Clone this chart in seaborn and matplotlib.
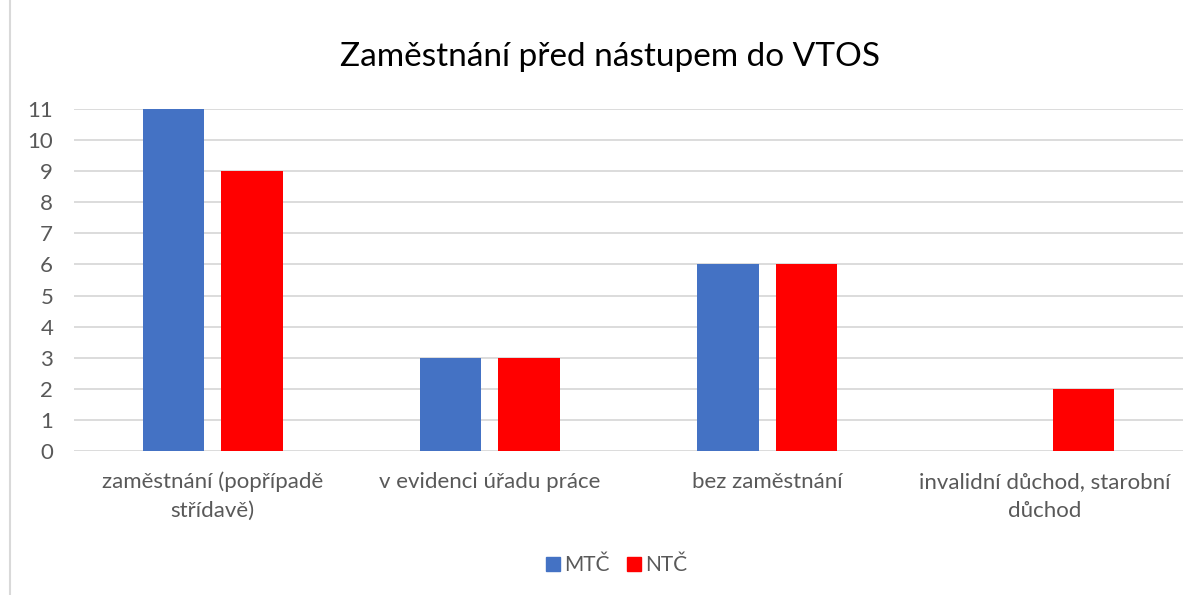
import pandas as pd
import matplotlib.pyplot as plt
import seaborn as sns
from matplotlib.lines import Line2D

# data
categories = ["zaměstnání (popřípadě\nstřídavě)", "v evidenci úřadu práce",
              "bez zaměstnání", "invalidní důchod, starobní\ndůchod"]
mtc = [11, 3, 6, 0]
ntc = [9, 3, 6, 2]
series = ["MTČ", "NTČ"]
colors = ["#4472C4", "#FF0000"]

df = pd.DataFrame({
    "kategorie": categories * 2,
    "skupina": [series[0]] * len(categories) + [series[1]] * len(categories),
    "pocet": mtc + ntc,
})

sns.set_style("white")
plt.rcParams["font.family"] = ["Lato", "DejaVu Sans"]
text_col = "#595959"

fig = plt.figure(figsize=(12, 5.95), dpi=100)
ax = fig.add_axes([0.0617, 0.242, 0.9241, 0.5748])

sns.barplot(data=df, x="kategorie", y="pocet", hue="skupina", hue_order=series,
            palette=colors, saturation=1, width=0.567, gap=0.217, linewidth=0,
            ax=ax, legend=False)

ax.set_ylim(0, 11)
ax.set_yticks(range(0, 12))
ax.yaxis.grid(True, color="#D9D9D9", linewidth=1.3)
ax.set_axisbelow(True)
for s in ax.spines.values():
    s.set_visible(False)
ax.set_xlabel("")
ax.set_ylabel("")
ax.tick_params(axis="both", length=0, labelsize=16, colors=text_col)
ax.tick_params(axis="x", pad=15)
ax.tick_params(axis="y", pad=15)
for lbl in ax.get_xticklabels():
    lbl.set_linespacing(1.55)

fig.text(0.508, 0.905, "Zaměstnání před nástupem do VTOS", ha="center", va="center",
         fontsize=24, color="#000000")

handles = [Line2D([], [], marker="s", linestyle="", markersize=10.5, color=c) for c in colors]
fig.legend(handles, series, loc="center", bbox_to_anchor=(0.513, 0.05), ncol=2,
           frameon=False, fontsize=15, labelcolor=text_col, handletextpad=0.1,
           columnspacing=0.7, handlelength=0.9)

# chart border
fig.add_artist(Line2D([10 / 1200, 10 / 1200], [0, 1], color="#D9D9D9", linewidth=1.5))

fig.savefig("out.png", dpi=100)
